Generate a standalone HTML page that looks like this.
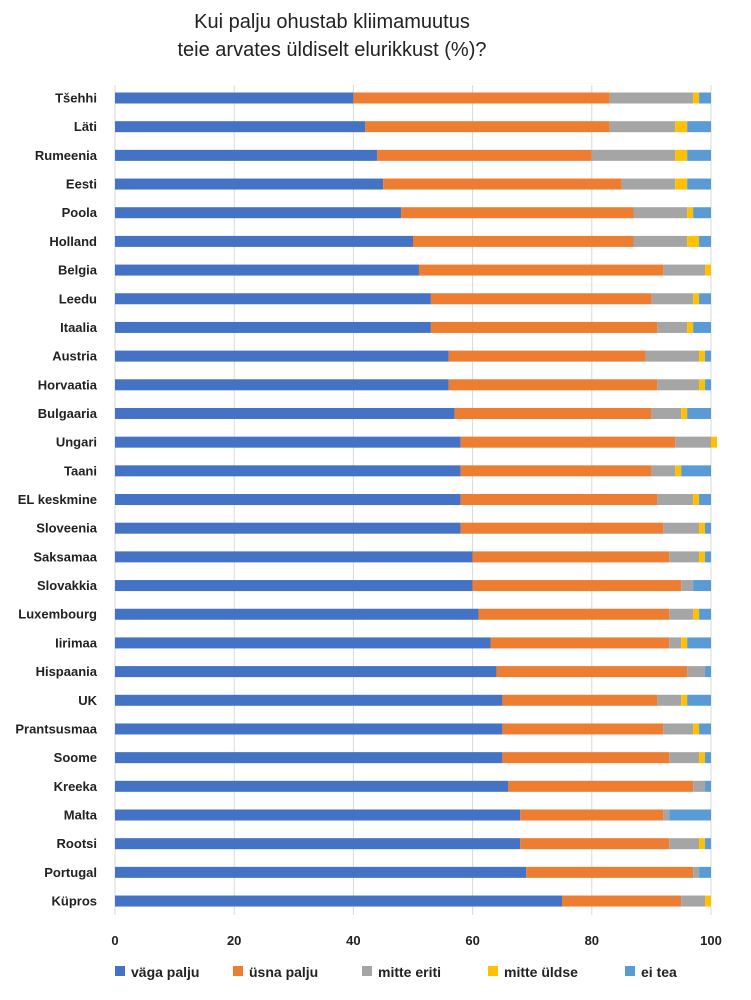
<!DOCTYPE html>
<html><head><meta charset="utf-8"><style>
body{margin:0;background:#fff;}
svg{display:block;font-family:"Liberation Sans",Arial,sans-serif;}
</style></head><body>
<svg id="s" width="751" height="1000" xmlns="http://www.w3.org/2000/svg">
<text x="332" y="28" font-size="20" text-anchor="middle" fill="#222">Kui palju ohustab kliimamuutus</text>
<text x="332" y="56" font-size="20" text-anchor="middle" fill="#222">teie arvates üldiselt elurikkust (%)?</text>
</svg>
<script>
var d=[["Tšehhi",40,83,97,98,100],["Läti",42,83,94,96,100],["Rumeenia",44,80,94,96,100],["Eesti",45,85,94,96,100],["Poola",48,87,96,97,100],["Holland",50,87,96,98,100],["Belgia",51,92,99,100,100],["Leedu",53,90,97,98,100],["Itaalia",53,91,96,97,100],["Austria",56,89,98,99,100],["Horvaatia",56,91,98,99,100],["Bulgaaria",57,90,95,96,100],["Ungari",58,94,100,101,101],["Taani",58,90,94,95,100],["EL keskmine",58,91,97,98,100],["Sloveenia",58,92,98,99,100],["Saksamaa",60,93,98,99,100],["Slovakkia",60,95,97,97,100],["Luxembourg",61,93,97,98,100],["Iirimaa",63,93,95,96,100],["Hispaania",64,96,99,99,100],["UK",65,91,95,96,100],["Prantsusmaa",65,92,97,98,100],["Soome",65,93,98,99,100],["Kreeka",66,97,99,99,100],["Malta",68,92,93,93,100],["Rootsi",68,93,98,99,100],["Portugal",69,97,98,98,100],["Küpros",75,95,99,100,100]];
var c=["#4472c4","#ed7d31","#a5a5a5","#ffc000","#5b9bd5"];
var s="",x0=115,k=5.96;
for(var g=0;g<=100;g+=20){var gx=x0+g*k;s+='<line x1="'+gx+'" y1="85" x2="'+gx+'" y2="915" stroke="#d9d9d9" stroke-width="1"/>';
s+='<text x="'+gx+'" y="945" font-size="13" font-weight="bold" text-anchor="middle" fill="#222">'+g+'</text>';}
d.forEach(function(r,i){var y=98+i*28.68;var p=0;
s+='<text x="97" y="'+(y+4.5)+'" font-size="13" font-weight="bold" text-anchor="end" fill="#222">'+r[0]+'</text>';
for(var j=0;j<5;j++){var w=(r[j+1]-p)*k;if(w>0)s+='<rect x="'+(x0+p*k)+'" y="'+(y-5.5)+'" width="'+w+'" height="11" fill="'+c[j]+'"/>';p=r[j+1];}});
var L=[["väga palju",115],["üsna palju",233],["mitte eriti",362],["mitte üldse",488],["ei tea",625]];
L.forEach(function(l,j){s+='<rect x="'+l[1]+'" y="966" width="10" height="10" fill="'+c[j]+'"/><text x="'+(l[1]+16)+'" y="977" font-size="14" font-weight="bold" fill="#222">'+l[0]+'</text>';});
document.getElementById("s").insertAdjacentHTML("beforeend",s);
</script>
</body></html>
